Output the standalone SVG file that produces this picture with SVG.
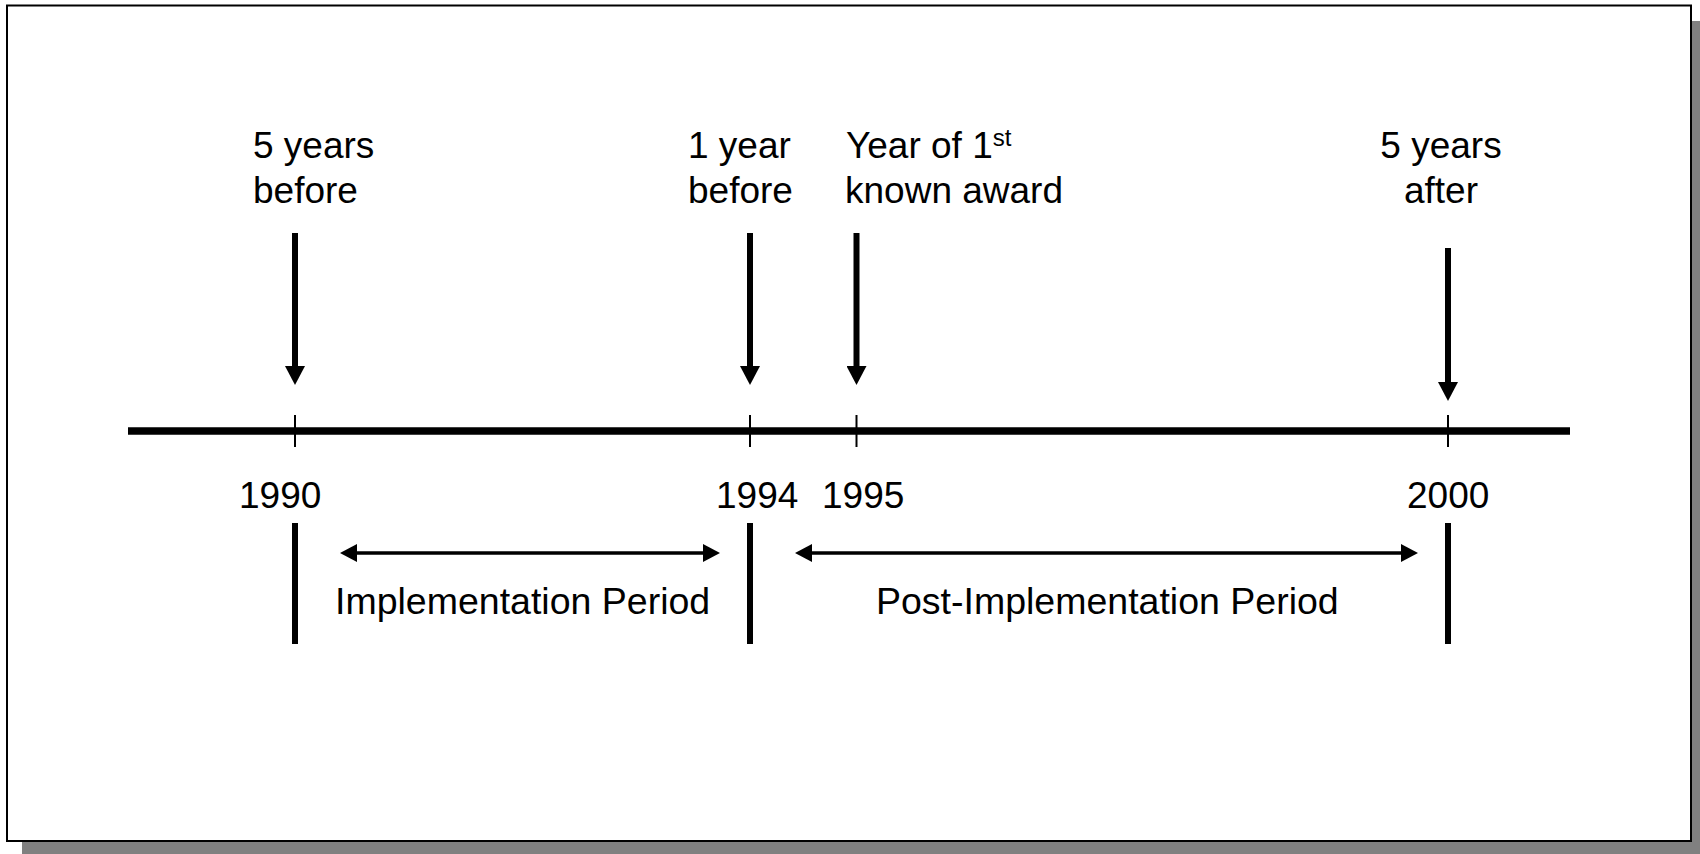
<svg xmlns="http://www.w3.org/2000/svg" width="1700" height="854" viewBox="0 0 1700 854">
<style>
  text { font-family: "Liberation Sans", Arial, sans-serif; font-size: 37px; fill: #000; }
  .period { font-size: 37.5px; }
  .thick { stroke: #000; stroke-width: 6; fill: none; }
  .tick { stroke: #000; stroke-width: 2; fill: none; }
  .axis { stroke: #000; stroke-width: 7.5; fill: none; }
  .down { stroke: #000; stroke-width: 6; fill: none; marker-end: url(#headDown); }
  .span { stroke: #000; stroke-width: 3.5; fill: none; marker-start: url(#headSpan); marker-end: url(#headSpan); }
</style>
<defs>
  <marker id="headDown" markerUnits="userSpaceOnUse" viewBox="0 0 19 20" markerWidth="19" markerHeight="20" refX="4" refY="10" orient="auto">
    <path d="M0,0 L19,10 L0,20 z" fill="#000"/>
  </marker>
  <marker id="headSpan" markerUnits="userSpaceOnUse" viewBox="0 0 17 18" markerWidth="17" markerHeight="18" refX="7" refY="9" orient="auto-start-reverse">
    <path d="M0,0 L17,9 L0,18 z" fill="#000"/>
  </marker>
</defs>

<g id="frame">
  <rect x="22" y="21" width="1678" height="833" fill="#808080"/>
  <rect x="7" y="5.5" width="1684" height="835.5" fill="#fff" stroke="#000" stroke-width="2"/>
</g>

<g id="connectors">
  <line id="timeline" class="axis" x1="128" y1="431" x2="1570" y2="431"/>
  <line class="tick" x1="295" y1="415" x2="295" y2="447"/>
  <line class="tick" x1="750" y1="415" x2="750" y2="447"/>
  <line class="tick" x1="856.5" y1="415" x2="856.5" y2="447"/>
  <line class="tick" x1="1448" y1="415" x2="1448" y2="447"/>
  <line class="down" x1="295" y1="233" x2="295" y2="370"/>
  <line class="down" x1="750" y1="233" x2="750" y2="370"/>
  <line class="down" x1="856.5" y1="233" x2="856.5" y2="370"/>
  <line class="down" x1="1448" y1="248" x2="1448" y2="386"/>
  <line class="thick" x1="295" y1="523" x2="295" y2="644"/>
  <line class="thick" x1="750" y1="523" x2="750" y2="644"/>
  <line class="thick" x1="1448" y1="523" x2="1448" y2="644"/>
  <line class="span" x1="350" y1="553" x2="710" y2="553"/>
  <line class="span" x1="805" y1="553" x2="1408" y2="553"/>
</g>

<g id="label-5-years-before">
  <text x="253" y="158">5 years</text>
  <text x="253" y="203">before</text>
</g>
<g id="label-1-year-before">
  <text x="688" y="158">1 year</text>
  <text x="688" y="203">before</text>
</g>
<g id="label-first-award">
  <text x="846" y="158">Year of 1<tspan font-size="24" dy="-12">st</tspan></text>
  <text x="845" y="203">known award</text>
</g>
<g id="label-5-years-after">
  <text x="1441" y="158" text-anchor="middle">5 years</text>
  <text x="1441" y="203" text-anchor="middle">after</text>
</g>

<g id="year-1990"><text x="239" y="508">1990</text></g>
<g id="year-1994"><text x="716" y="508">1994</text></g>
<g id="year-1995"><text x="822" y="508">1995</text></g>
<g id="year-2000"><text x="1407" y="508">2000</text></g>

<g id="implementation-period"><text class="period" x="335" y="614">Implementation Period</text></g>
<g id="post-implementation-period"><text class="period" x="876" y="614">Post-Implementation Period</text></g>
</svg>
